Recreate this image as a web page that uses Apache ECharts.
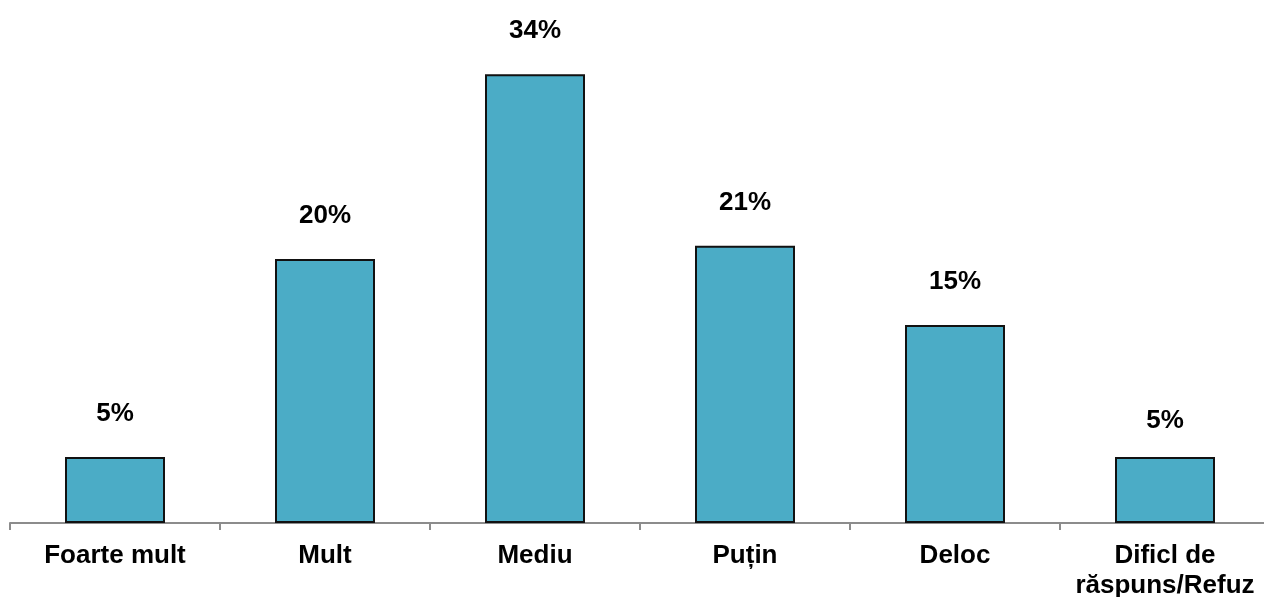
<!DOCTYPE html>
<html>
<head>
<meta charset="utf-8">
<script src="https://cdn.jsdelivr.net/npm/echarts@6/dist/echarts.min.js"></script>
<style>html,body{margin:0;padding:0;background:#fff;}#c{width:1264px;height:597px;}</style>
</head>
<body>
<div id="c"></div>
<script>
const categories = ['Foarte mult', 'Mult', 'Mediu', 'Puțin', 'Deloc', 'Dificl de\nrăspuns/Refuz'];
const values = [5, 20, 34, 21, 15, 5];

const seriesData = values.map(function (v, i) {
  if (i === values.length - 1) {
    return { value: v, label: { distance: 23 } };
  }
  return v;
});

const chart = echarts.init(document.getElementById('c'));
chart.setOption({
  animation: false,
  grid: { left: 10, width: 1260, top: 21.4, bottom: 74, outerBoundsMode: 'none' },
  xAxis: {
    type: 'category',
    data: categories,
    axisLine: { lineStyle: { color: '#8c8c8c', width: 2 } },
    axisTick: { show: true, length: 7, lineStyle: { color: '#8c8c8c', width: 2 } },
    axisLabel: {
      interval: 0,
      margin: 18,
      color: '#000',
      fontFamily: 'Liberation Sans, Arial, sans-serif',
      fontWeight: 'bold',
      fontSize: 26,
      lineHeight: 30
    }
  },
  yAxis: {
    type: 'value',
    min: 0,
    max: 38,
    show: false,
    splitLine: { show: false }
  },
  series: [{
    type: 'bar',
    data: seriesData,
    barWidth: 100,
    itemStyle: { color: '#4BACC6', borderColor: '#111', borderWidth: 2 },
    label: {
      show: true,
      position: 'top',
      distance: 30,
      formatter: '{c}%',
      color: '#000',
      fontFamily: 'Liberation Sans, Arial, sans-serif',
      fontWeight: 'bold',
      fontSize: 26
    }
  }]
});
</script>
</body>
</html>
